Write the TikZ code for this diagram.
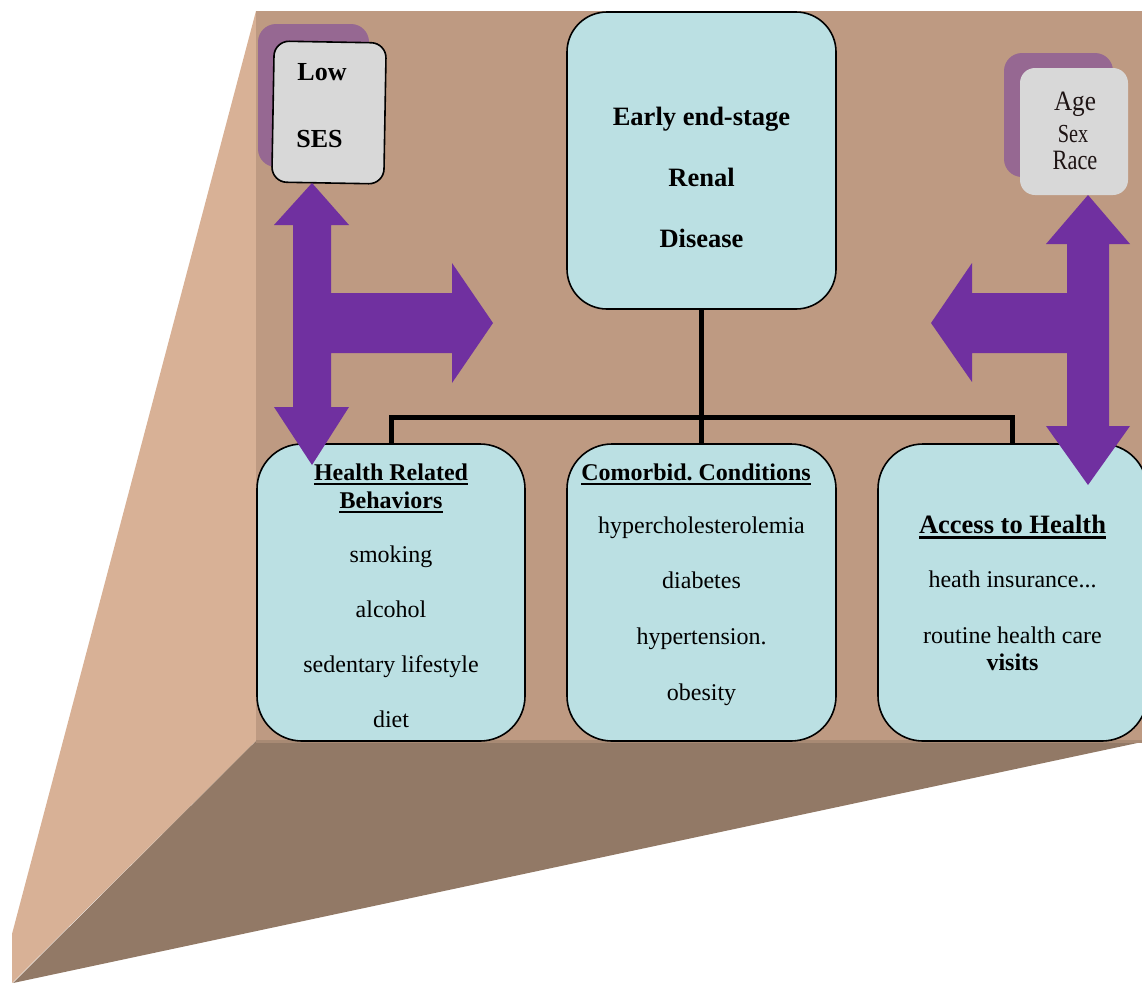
\documentclass[tikz,border=0pt]{standalone}
\usepackage{fontspec}
\setmainfont{Liberation Serif}
\frenchspacing
\definecolor{wallc}{RGB}{190,154,130}
\definecolor{sidec}{RGB}{216,177,150}
\definecolor{floorc}{RGB}{146,121,102}
\definecolor{stripc}{RGB}{168,138,116}
\definecolor{boxblue}{RGB}{187,224,227}
\definecolor{boxgrey}{RGB}{216,216,216}
\definecolor{shadowc}{RGB}{150,104,146}
\definecolor{arrowc}{RGB}{112,48,160}
\definecolor{agetext}{RGB}{30,20,20}
\begin{document}
\begin{tikzpicture}[x=1pt,y=-1pt,
  bluebox/.style={draw=black, line width=1.6pt, fill=boxblue, rounded corners=42pt, inner sep=0},
  greybox/.style={draw=black, line width=1.6pt, fill=boxgrey, rounded corners=15pt, inner sep=0},
  softbox/.style={fill=boxgrey, rounded corners=15pt, inner sep=0},
  shadowbox/.style={fill=shadowc, rounded corners=18pt, inner sep=0},
  conn/.style={draw=black, line width=5pt, line join=miter},
  blockarrow/.style={fill=arrowc},
  ulrule/.style={draw=black, line width=2.6pt},
  txt/.style={anchor=base, inner sep=0, font=\fontsize{24}{28}\selectfont},
  ttl/.style={anchor=base, inner sep=0, font=\fontsize{24}{28}\selectfont\bfseries},
  bigttl/.style={anchor=base, inner sep=0, font=\fontsize{26.5}{30}\selectfont\bfseries},
  agetxt/.style={anchor=base, inner sep=0, text=agetext}]
\useasboundingbox (0,0) rectangle (1142,983);
\clip (0,0) rectangle (1142,983);
% faces
\fill[sidec] (256,11) -- (12,934) -- (12,983) -- (256,741) -- cycle;
\fill[floorc] (13,983) -- (256,741) -- (1142,741) -- (1142,742) -- cycle;
\fill[wallc] (256,11) rectangle (1142,741);
\fill[stripc] (256,740) rectangle (1142,743);
% shadows
\node[shadowbox, minimum width=111pt, minimum height=143pt] (sesshadow) at (313.5,95.5) {};
\node[shadowbox, minimum width=109pt, minimum height=124pt] (ageshadow) at (1058.5,115) {};
% boxes
\node[bluebox, rounded corners=40pt, minimum width=269pt, minimum height=297pt] (top) at (701.5,160.5) {};
\node[bluebox, rounded corners=45pt, minimum width=268pt, minimum height=297pt] (hb) at (391,592.5) {};
\node[bluebox, rounded corners=45pt, minimum width=269pt, minimum height=297pt] (cc) at (701.5,592.5) {};
\node[bluebox, rounded corners=45pt, minimum width=269pt, minimum height=297pt] (ah) at (1012.5,592.5) {};
% connectors
\coordinate (j) at (701.5,417);
\draw[conn] (top.south) -- (cc.north);
\draw[conn] (hb.north) |- (j) -| (ah.north);
\node[greybox, rotate=-1, minimum width=112pt, minimum height=141pt] (ses) at (329,112.5) {};
\node[softbox, minimum width=108pt, minimum height=127pt] (age) at (1074,131.5) {};
% block arrows
\fill[blockarrow] (312,183) -- (349,225) -- (331,225) -- (331,293) -- (452,293) -- (452,263) -- (493,323) -- (452,383) -- (452,353) -- (331,353) -- (331,407) -- (349,407) -- (312,465) -- (274,407) -- (293,407) -- (293,225) -- (274,225) -- cycle;
\fill[blockarrow] (1088,195) -- (1130,244) -- (1109,244) -- (1109,426) -- (1130,426) -- (1088,485) -- (1046,426) -- (1067,426) -- (1067,353) -- (972,353) -- (972,382) -- (931,323) -- (972,263) -- (972,293) -- (1067,293) -- (1067,244) -- (1046,244) -- cycle;
% texts
\node[bigttl] (t1) at (701.5,125) {Early end-stage};
\node[bigttl] (t2) at (701.5,186) {Renal};
\node[bigttl] (t3) at (701.5,247) {Disease};
\node[bigttl, font=\fontsize{26}{30}\selectfont\bfseries] (s1) at (322,80) {Low};
\node[bigttl, font=\fontsize{26}{30}\selectfont\bfseries] (s2) at (319.5,147) {SES};
\node[agetxt, font=\fontsize{28}{30}\selectfont] (a1) at (1075,110) {\scalebox{0.9}[1]{Age}};
\node[agetxt, font=\fontsize{26}{30}\selectfont] (a2) at (1073,142) {\scalebox{0.78}[1]{Sex}};
\node[agetxt, font=\fontsize{28}{30}\selectfont] (a3) at (1075,169) {\scalebox{0.8}[1]{Race}};
\node[ttl] (h0) at (391,480) {Health Related};
\node[ttl] (h1) at (391,508) {Behaviors};
\node[txt] (h2) at (391,562) {smoking};
\node[txt] (h3) at (391,617) {alcohol};
\node[txt] (h4) at (391,672) {sedentary lifestyle};
\node[txt] (h5) at (391,727) {diet};
\node[ttl] (c0) at (696,480) {Comorbid. Conditions};
\node[txt] (c1) at (701.5,533) {hypercholesterolemia};
\node[txt] (c2) at (701.5,588) {diabetes};
\node[txt] (c3) at (701.5,644) {hypertension.};
\node[txt] (c4) at (701.5,700) {obesity};
\node[bigttl] (x0) at (1012.5,533) {Access to Health};
\node[txt] (x1) at (1012.5,587) {heath insurance...};
\node[txt] (x2) at (1012.5,643) {routine health care};
\node[ttl] (x3) at (1012.5,670) {visits};
% underlines
\foreach \n in {h0,h1,c0}
  \draw[ulrule] ([yshift=-3.8pt]\n.base west) -- ([yshift=-3.8pt]\n.base east);
\draw[ulrule, line width=2.8pt] ([yshift=-4.8pt]x0.base west) -- ([yshift=-4.8pt]x0.base east);
\end{tikzpicture}
\end{document}
